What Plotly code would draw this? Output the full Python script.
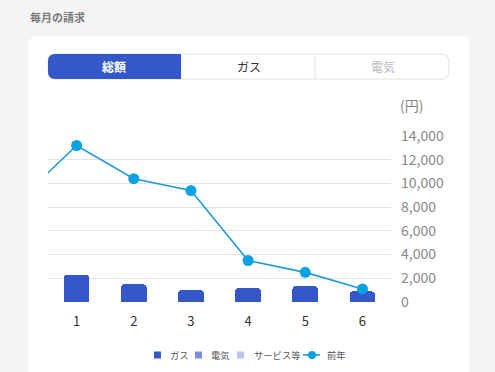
import plotly.graph_objects as go

months = [1, 2, 3, 4, 5, 6]
gas = [2300, 1500, 1000, 1200, 1350, 900]
denki = [0, 0, 0, 0, 0, 0]
service = [0, 0, 0, 0, 0, 0]
prev_months = [0, 1, 2, 3, 4, 5, 6]
prev_year = [8600, 13200, 10400, 9400, 3500, 2500, 1100]
y_ticks = [0, 2000, 4000, 6000, 8000, 10000, 12000, 14000]
series_names = ["ガス", "電気", "サービス等", "前年"]
bar_colors = ["#3558c8", "#7a8fdf", "#b6c7f3"]
line_color = "#1e9bd7"
marker_color = "#0ba2e3"

W, H = 495, 372
L, R, T, B = 48, 104, 136, 70
PW, PH = W - L - R, H - T - B

def px(x):
    return (x - L) / PW

def py(y):
    return (H - B - y) / PH

FONT = "Noto Sans CJK JP, Noto Sans, sans-serif"

fig = go.Figure()
for vals, name, col in zip([gas, denki, service], series_names[:3], bar_colors):
    fig.add_trace(go.Bar(x=months, y=vals, name=name, marker=dict(color=col, line=dict(width=0)), width=0.45))
fig.add_trace(go.Scatter(x=prev_months, y=prev_year, name=series_names[3], mode="lines+markers",
                         line=dict(color=line_color, width=1.6),
                         marker=dict(color=marker_color, size=11)))

def rounded_rect(x0, y0, x1, y1, r, corners=(True, True, True, True)):
    tl, tr, br, bl = corners
    p = []
    p.append(f"M {px(x0 + (r if tl else 0))},{py(y0)}")
    p.append(f"L {px(x1 - (r if tr else 0))},{py(y0)}")
    if tr:
        p.append(f"Q {px(x1)},{py(y0)} {px(x1)},{py(y0 + r)}")
    p.append(f"L {px(x1)},{py(y1 - (r if br else 0))}")
    if br:
        p.append(f"Q {px(x1)},{py(y1)} {px(x1 - r)},{py(y1)}")
    p.append(f"L {px(x0 + (r if bl else 0))},{py(y1)}")
    if bl:
        p.append(f"Q {px(x0)},{py(y1)} {px(x0)},{py(y1 - r)}")
    p.append(f"L {px(x0)},{py(y0 + (r if tl else 0))}")
    if tl:
        p.append(f"Q {px(x0)},{py(y0)} {px(x0 + r)},{py(y0)}")
    p.append("Z")
    return " ".join(p)

shapes = [
    dict(type="path", xref="paper", yref="paper", layer="below",
         path=rounded_rect(29, 36, 469, 380, 8), fillcolor="white", line=dict(width=0)),
    dict(type="path", xref="paper", yref="paper", layer="below",
         path=rounded_rect(48, 54, 449, 79, 8), fillcolor="white", line=dict(color="#e3e3e3", width=1)),
    dict(type="path", xref="paper", yref="paper", layer="below",
         path=rounded_rect(48, 54, 181, 79, 7, (True, False, False, True)), fillcolor="#3558c8", line=dict(width=0)),
    dict(type="line", xref="paper", yref="paper", layer="below",
         x0=px(315), x1=px(315), y0=py(54.5), y1=py(78.5), line=dict(color="#e3e3e3", width=1)),
]

annotations = [
    dict(text="<b>毎月の請求</b>", x=px(28), y=py(17), xref="paper", yref="paper", xanchor="left", yanchor="middle",
         showarrow=False, font=dict(size=11, color="#7a7a7a", family=FONT)),
    dict(text="<b>総額</b>", x=px(114), y=py(67), xref="paper", yref="paper", xanchor="center", yanchor="middle",
         showarrow=False, font=dict(size=12, color="white", family=FONT)),
    dict(text="ガス", x=px(249), y=py(67), xref="paper", yref="paper", xanchor="center", yanchor="middle",
         showarrow=False, font=dict(size=12, color="#333333", family=FONT)),
    dict(text="電気", x=px(383), y=py(67), xref="paper", yref="paper", xanchor="center", yanchor="middle",
         showarrow=False, font=dict(size=12, color="#bbbbbb", family=FONT)),
    dict(text="(円)", x=px(398), y=py(105), xref="paper", yref="paper", xanchor="left", yanchor="middle",
         showarrow=False, font=dict(size=14, color="#888888", family=FONT)),
]

# custom compact legend (bottom, centred)
LY = 355
square_x = [154, 195, 237]
text_x = [169, 210, 253, 326]
for sx, col in zip(square_x, bar_colors):
    shapes.append(dict(type="rect", xref="paper", yref="paper", x0=px(sx), x1=px(sx + 7),
                       y0=py(LY - 3.5), y1=py(LY + 3.5), fillcolor=col, line=dict(width=0)))
shapes.append(dict(type="line", xref="paper", yref="paper", x0=px(303), x1=px(320),
                   y0=py(LY), y1=py(LY), line=dict(color=line_color, width=1.6)))
shapes.append(dict(type="circle", xref="paper", yref="paper", x0=px(308), x1=px(316),
                   y0=py(LY - 4), y1=py(LY + 4), fillcolor=marker_color, line=dict(width=0)))
for tx, name in zip(text_x, series_names):
    annotations.append(dict(text=name, x=px(tx - 1), y=py(LY), xref="paper", yref="paper",
                            xanchor="left", yanchor="middle", showarrow=False,
                            font=dict(size=9.3, color="#555555", family=FONT)))

fig.update_layout(
    width=W, height=H,
    margin=dict(l=L, r=R, t=T, b=B, autoexpand=False),
    paper_bgcolor="#f4f4f4", plot_bgcolor="rgba(0,0,0,0)",
    barmode="stack", barcornerradius=4,
    font=dict(family=FONT),
    showlegend=False,
    xaxis=dict(range=[0.5, 6.5], tickvals=months, ticktext=[str(m) for m in months],
               showgrid=False, zeroline=False, showline=False, ticks="",
               ticklabelstandoff=10, tickfont=dict(size=13, color="#333333", family=FONT)),
    yaxis=dict(range=[0, 14000], side="right", tickvals=y_ticks, tickformat=",",
               showgrid=True, gridcolor="#e2e2e2", gridwidth=1, zeroline=False, showline=False,
               ticks="", ticklabelstandoff=9, tickfont=dict(size=14, color="#888888", family=FONT)),
    shapes=shapes, annotations=annotations,
)

fig.write_html("out.html")
